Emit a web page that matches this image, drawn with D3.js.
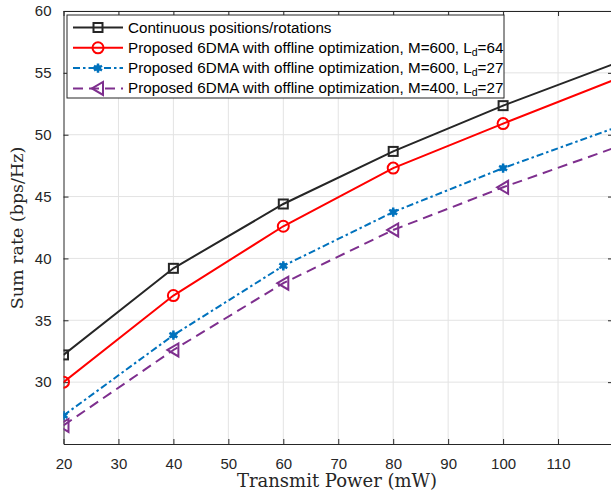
<!DOCTYPE html>
<html>
<head>
<meta charset="utf-8">
<script src="https://cdn.jsdelivr.net/npm/d3@7"></script>
<style>
  body { margin: 0; background: #fff; }
  svg { display: block; }
</style>
</head>
<body>
<div id="chart"></div>
<script>
// data
var power = [20, 40, 60, 80, 100, 120];
var continuous = [32.2, 39.2, 44.4, 48.65, 52.35, 55.7];
var offlineM600L64 = [30.0, 37.0, 42.6, 47.3, 50.9, 54.4];
var offlineM600L27 = [27.3, 33.8, 39.4, 43.75, 47.3, 50.5];
var offlineM400L27 = [26.5, 32.6, 38.0, 42.3, 45.75, 48.9];
var xTicks = [20, 30, 40, 50, 60, 70, 80, 90, 100, 110];
var yTicks = [30, 35, 40, 45, 50, 55, 60];
var legendLabels = [
  ["Continuous positions/rotations", null, null],
  ["Proposed 6DMA with offline optimization, M=600, L", "d", "=64"],
  ["Proposed 6DMA with offline optimization, M=600, L", "d", "=27"],
  ["Proposed 6DMA with offline optimization, M=400, L", "d", "=27"]
];

var svgWidth = 611;
var svgHeight = 492;
var margin = { top: 11, right: -2, bottom: 48, left: 63.5 };
var width = svgWidth - margin.left - margin.right;
var height = svgHeight - margin.top - margin.bottom;

var svg = d3.select("#chart").append("svg")
    .attr("width", svgWidth)
    .attr("height", svgHeight);

var g = svg.append("g")
    .attr("transform", `translate(${margin.left}, ${margin.top})`);

var x = d3.scaleLinear().domain([20, 120]).range([0, width]);
var y = d3.scaleLinear().domain([25, 60]).range([height, 0]);

var axisColor = "#262626";
var tickFont = "'Liberation Sans', Arial, sans-serif";

// grid
g.append("g").selectAll("line").data(xTicks.slice(1)).enter().append("line")
    .attr("x1", d => x(d)).attr("x2", d => x(d))
    .attr("y1", 0).attr("y2", height)
    .attr("stroke", "#e3e3e3").attr("stroke-width", 1);
g.append("g").selectAll("line").data(yTicks).enter().append("line")
    .attr("x1", 0).attr("x2", width)
    .attr("y1", d => y(d)).attr("y2", d => y(d))
    .attr("stroke", "#e3e3e3").attr("stroke-width", 1);

// axes (ticks pointing inward, box on)
var bottomAxis = d3.axisBottom(x).tickValues(xTicks).tickSizeInner(-5).tickSizeOuter(0).tickPadding(14);
var topAxis = d3.axisTop(x).tickValues(xTicks).tickSizeInner(-5).tickSizeOuter(0).tickFormat("");
var leftAxis = d3.axisLeft(y).tickValues(yTicks).tickSizeInner(-5).tickSizeOuter(0).tickPadding(12);
var rightAxis = d3.axisRight(y).tickValues(yTicks).tickSizeInner(-5).tickSizeOuter(0).tickFormat("");

function styleAxis(sel) {
  sel.selectAll("path, line").attr("stroke", axisColor).attr("stroke-width", 1);
  sel.selectAll("text").attr("fill", axisColor)
    .style("font-family", tickFont).style("font-size", "15px");
}

g.append("g").attr("transform", `translate(0, ${height})`).call(bottomAxis).call(styleAxis);
g.append("g").call(topAxis).call(styleAxis);
g.append("g").call(leftAxis).call(styleAxis);
g.append("g").attr("transform", `translate(${width}, 0)`).call(rightAxis).call(styleAxis);

// series
var series = [
  { values: continuous, color: "#262626", dash: null, marker: "square" },
  { values: offlineM600L64, color: "#ff0000", dash: null, marker: "circle" },
  { values: offlineM600L27, color: "#0072bd", dash: "7,3,2.5,3", marker: "star" },
  { values: offlineM400L27, color: "#7e2f8e", dash: "10,6", marker: "triangle" }
];

g.append("clipPath").attr("id", "clip").append("rect")
    .attr("x", 0).attr("y", 0).attr("width", width).attr("height", height);

var line = d3.line().x(d => x(d.p)).y(d => y(d.v));
var plot = g.append("g").attr("clip-path", "url(#clip)");

function drawMarker(sel, type, color) {
  if (type === "square") {
    sel.append("rect").attr("x", -4.5).attr("y", -4.5).attr("width", 9).attr("height", 9)
      .attr("fill", "none").attr("stroke", color).attr("stroke-width", 2);
  } else if (type === "circle") {
    sel.append("circle").attr("r", 5.5)
      .attr("fill", "none").attr("stroke", color).attr("stroke-width", 2);
  } else if (type === "star") {
    sel.append("path").attr("d", d3.symbol(d3.symbolAsterisk, 60)())
      .attr("fill", "none").attr("stroke", color).attr("stroke-width", 2.5);
    sel.append("circle").attr("r", 3).attr("fill", color);
  } else if (type === "triangle") {
    sel.append("path").attr("d", "M-6,0L5,-6.5L5,6.5Z")
      .attr("fill", "none").attr("stroke", color).attr("stroke-width", 2);
  }
}

series.forEach(function(s) {
  var pts = power.map((p, i) => ({ p: p, v: s.values[i] }));
  plot.append("path").datum(pts)
    .attr("d", line)
    .attr("fill", "none")
    .attr("stroke", s.color)
    .attr("stroke-width", 2)
    .attr("stroke-dasharray", s.dash);
  plot.selectAll(null).data(pts.filter(d => d.p <= 100)).enter().append("g")
    .attr("transform", d => `translate(${x(d.p)}, ${y(d.v)})`)
    .each(function() { drawMarker(d3.select(this), s.marker, s.color); });
});

// legend
var legend = svg.append("g").attr("transform", "translate(67, 15)");
legend.append("rect").attr("x", 0).attr("y", 0).attr("width", 437).attr("height", 83)
    .attr("fill", "#fff").attr("stroke", axisColor).attr("stroke-width", 1);

legendLabels.forEach(function(lab, i) {
  var s = series[i];
  var row = legend.append("g").attr("transform", `translate(0, ${12.5 + i * 20.3})`);
  row.append("line").attr("x1", 6).attr("x2", 56).attr("y1", 0).attr("y2", 0)
    .attr("stroke", s.color).attr("stroke-width", 2).attr("stroke-dasharray", s.dash);
  var m = row.append("g").attr("transform", "translate(31, 0)");
  drawMarker(m, s.marker, s.color);
  var t = row.append("text").attr("x", 61).attr("y", 5)
    .attr("fill", "#000")
    .style("font-family", tickFont).style("font-size", "15.2px");
  t.append("tspan").text(lab[0]);
  if (lab[1]) {
    t.append("tspan").attr("dy", 3).style("font-size", "10.5px").text(lab[1]);
    t.append("tspan").attr("dy", -3).text(lab[2]);
  }
});

// axis labels
svg.append("text")
    .attr("x", 337).attr("y", 487)
    .attr("text-anchor", "middle")
    .attr("fill", axisColor)
    .style("font-family", "'DejaVu Serif', 'Liberation Serif', serif")
    .style("font-size", "18px")
    .text("Transmit Power (mW)");

svg.append("text")
    .attr("transform", "translate(23, 228) rotate(-90)")
    .attr("text-anchor", "middle")
    .attr("fill", axisColor)
    .style("font-family", "'DejaVu Serif', 'Liberation Serif', serif")
    .style("font-size", "17.5px")
    .text("Sum rate (bps/Hz)");
</script>
</body>
</html>
